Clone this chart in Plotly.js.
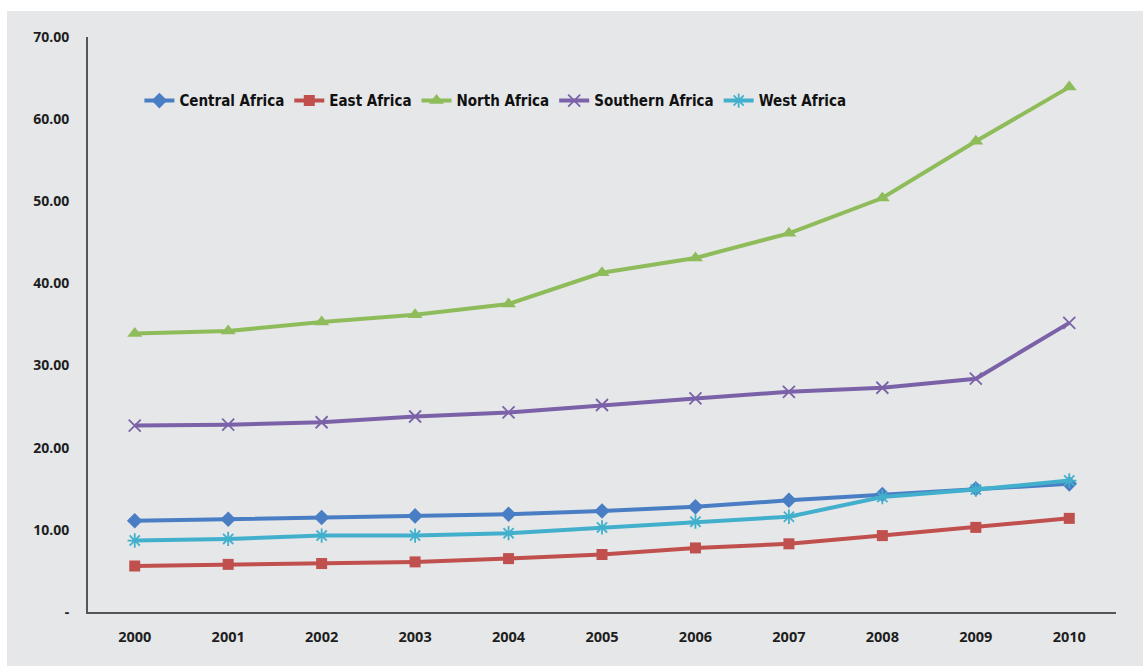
<!DOCTYPE html>
<html>
<head>
<meta charset="utf-8">
<script src="https://cdn.plot.ly/plotly-3.0.1.min.js"></script>
<style>
  html, body { margin: 0; padding: 0; background: #ffffff; }
  #chart { position: absolute; left: 7px; top: 11px; width: 1136px; height: 655px; }
</style>
</head>
<body>
<div id="chart"></div>
<script>
// Years on the category axis
const years = ['2000','2001','2002','2003','2004','2005','2006','2007','2008','2009','2010'];

// Regional series
const centralAfrica  = [11.1, 11.3, 11.5, 11.7, 11.9, 12.3, 12.8, 13.6, 14.3, 15.0, 15.6];
const eastAfrica     = [5.6, 5.8, 5.9, 6.1, 6.5, 7.0, 7.8, 8.3, 9.3, 10.3, 11.4];
const northAfrica    = [33.9, 34.2, 35.3, 36.2, 37.5, 41.3, 43.1, 46.1, 50.4, 57.3, 63.9];
const southernAfrica = [22.7, 22.8, 23.1, 23.8, 24.3, 25.2, 26.0, 26.8, 27.3, 28.4, 35.2];
const westAfrica     = [8.7, 8.9, 9.3, 9.3, 9.6, 10.3, 11.0, 11.6, 14.0, 14.9, 16.0];

// Y-axis tick values and labels
const yTickVals = [0, 10, 20, 30, 40, 50, 60, 70];
const yTickText = ['-', '10.00', '20.00', '30.00', '40.00', '50.00', '60.00', '70.00'];

function series(name, y, color, symbol, size, open) {
  const marker = { color: color, symbol: symbol, size: size };
  if (open) marker.line = { color: color, width: 1.8 };
  return {
    type: 'scatter', mode: 'lines+markers', name: name,
    x: years, y: y,
    line: { color: color, width: 4 },
    marker: marker
  };
}

const traces = [
  series('Central Africa', centralAfrica, '#4a7ec4', 'diamond', 12, false),
  series('East Africa', eastAfrica, '#c0504d', 'square', 11, false),
  series('North Africa', northAfrica, '#8fbc5a', 'triangle-up', 13, false),
  series('Southern Africa', southernAfrica, '#7b62a8', 'x-thin-open', 12, true),
  series('West Africa', westAfrica, '#42b0cc', 'asterisk-open', 12, true)
];

const baseFont = 'Open Sans, Liberation Sans, sans-serif';

const layout = {
  width: 1136, height: 655,
  paper_bgcolor: '#e6e7e9',
  plot_bgcolor: '#e6e7e9',
  margin: { l: 81, r: 27, t: 26, b: 54 },
  showlegend: true,
  legend: {
    orientation: 'h',
    x: 0.05, xanchor: 'left',
    y: 0.889, yanchor: 'middle',
    bgcolor: 'rgba(0,0,0,0)',
    font: { family: 'DejaVu Sans Condensed, Liberation Sans Narrow, sans-serif', size: 15, color: '#111111', weight: 700 },
    itemwidth: 30
  },
  xaxis: {
    type: 'category',
    range: [-0.5, 10.5],
    showgrid: false, zeroline: false,
    showline: true, linecolor: '#555555', linewidth: 2,
    ticks: 'outside', ticklen: 11, tickcolor: 'rgba(0,0,0,0)',
    tickfont: { family: baseFont, size: 14.5, color: '#1e1e1e', weight: 700 }
  },
  yaxis: {
    range: [0, 70],
    tickvals: yTickVals, ticktext: yTickText,
    showgrid: false, zeroline: false,
    showline: true, linecolor: '#555555', linewidth: 2,
    ticks: 'outside', ticklen: 14, tickcolor: 'rgba(0,0,0,0)',
    tickfont: { family: baseFont, size: 14, color: '#1e1e1e', weight: 700 }
  }
};

Plotly.newPlot('chart', traces, layout, { displayModeBar: false, staticPlot: true });
</script>
</body>
</html>
